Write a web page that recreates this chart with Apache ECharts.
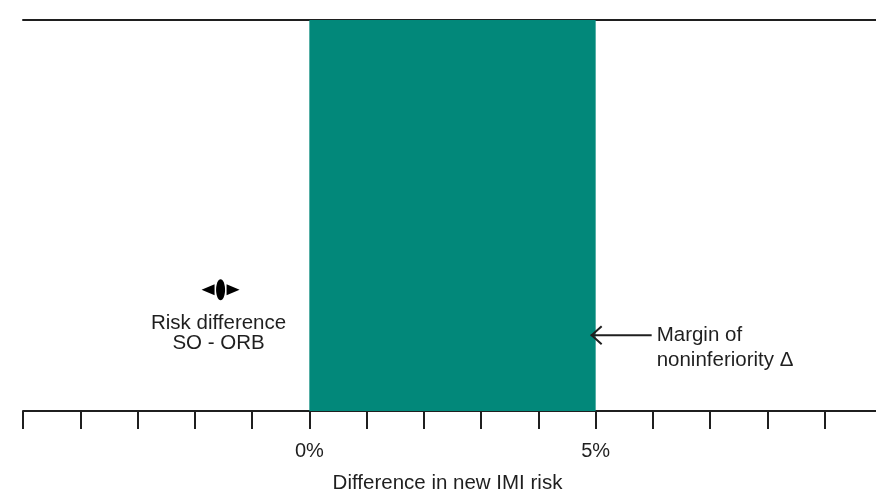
<!DOCTYPE html>
<html>
<head>
<meta charset="utf-8">
<script src="https://cdn.jsdelivr.net/npm/echarts@6/dist/echarts.min.js"></script>
<style>
  html, body { margin: 0; padding: 0; background: #fff; }
  #chart { width: 876px; height: 491px; }
</style>
</head>
<body>
<div id="chart"></div>
<script>
// x axis in percent difference
const xMin = -5
const xMax = 10
const labeledTicks = [0, 5]
const axisTitle = 'Difference in new IMI risk'

// noninferiority zone: 0% .. margin
const marginBand = [0, 5]

// point estimate (x in %, y as fraction of plot height)
const estimate = [[-1.55, 0.31]]
const estimateText = 'Risk difference\nSO - ORB'

// margin annotation anchor
const marginNote = [[5, 0.194]]
const marginText = 'Margin of\nnoninferiority Δ'

const ink = '#1f1f1f'
const font = 'Liberation Sans, Arial, sans-serif'

const chart = echarts.init(document.getElementById('chart'))

chart.setOption({
  animation: false,
  grid: {
    top: 20,
    bottom: 80,
    left: 23,
    right: -6,
    outerBoundsMode: 'none', // keep the grid where it is set (v6)
    containLabel: false
  },
  xAxis: [
    {
      type: 'value',
      min: xMin,
      max: xMax,
      interval: 1,
      position: 'bottom',
      splitLine: { show: false },
      axisLine: { show: true, onZero: false, lineStyle: { color: ink, width: 2 } },
      axisTick: { show: true, length: 18, lineStyle: { color: ink, width: 2 } },
      axisLabel: {
        margin: 30,
        color: ink,
        fontSize: 20,
        fontFamily: font,
        formatter: v => (labeledTicks.indexOf(v) >= 0 ? v + '%' : '')
      },
      name: axisTitle,
      nameLocation: 'middle',
      nameGap: 62,
      nameTextStyle: {
        color: ink,
        fontSize: 20.5,
        fontFamily: font,
        padding: [0, 10, 0, 0]
      }
    },
    {
      // top frame line
      type: 'value',
      min: xMin,
      max: xMax,
      position: 'top',
      axisLine: { show: true, onZero: false, lineStyle: { color: ink, width: 2 } },
      axisTick: { show: false },
      axisLabel: { show: false },
      splitLine: { show: false }
    }
  ],
  yAxis: {
    type: 'value',
    min: 0,
    max: 1,
    show: false
  },
  series: [
    {
      type: 'scatter',
      data: [],
      silent: true,
      markArea: {
        silent: true,
        itemStyle: { color: '#02887a' },
        data: [[{ xAxis: marginBand[0], yAxis: 0 }, { xAxis: marginBand[1], yAxis: 1 }]]
      }
    },
    {
      // point estimate with arrowheads
      type: 'custom',
      silent: true,
      data: estimate,
      renderItem: (params, api) => {
        const p = api.coord([api.value(0), api.value(1)])
        const cx = p[0]
        const cy = p[1]
        return {
          type: 'group',
          children: [
            {
              type: 'ellipse',
              shape: { cx: cx, cy: cy, rx: 4.5, ry: 10.5 },
              style: { fill: '#000' }
            },
            {
              type: 'polygon',
              shape: { points: [[cx - 19, cy], [cx - 6, cy - 5.5], [cx - 6, cy + 5.5]] },
              style: { fill: '#000' }
            },
            {
              type: 'polygon',
              shape: { points: [[cx + 19, cy], [cx + 6, cy - 5.5], [cx + 6, cy + 5.5]] },
              style: { fill: '#000' }
            },
            {
              type: 'text',
              style: {
                x: cx - 2,
                y: cy + 44,
                text: estimateText,
                fill: ink,
                font: '20.5px ' + font,
                lineHeight: 20,
                align: 'center',
                verticalAlign: 'middle'
              }
            }
          ]
        }
      }
    },
    {
      // margin arrow + label
      type: 'custom',
      silent: true,
      data: marginNote,
      renderItem: (params, api) => {
        const p = api.coord([api.value(0), api.value(1)])
        const tip = p[0] - 5
        const y = p[1]
        return {
          type: 'group',
          children: [
            {
              type: 'line',
              shape: { x1: tip, y1: y, x2: tip + 61, y2: y },
              style: { stroke: ink, lineWidth: 2 }
            },
            {
              type: 'polyline',
              shape: { points: [[tip + 11, y - 9], [tip + 1, y], [tip + 11, y + 9]] },
              style: { stroke: ink, lineWidth: 2, fill: null }
            },
            {
              type: 'text',
              style: {
                x: tip + 66,
                y: y - 12.5,
                text: marginText,
                fill: ink,
                font: '20.5px ' + font,
                lineHeight: 25,
                align: 'left',
                verticalAlign: 'top'
              }
            }
          ]
        }
      }
    }
  ]
})
</script>
</body>
</html>
